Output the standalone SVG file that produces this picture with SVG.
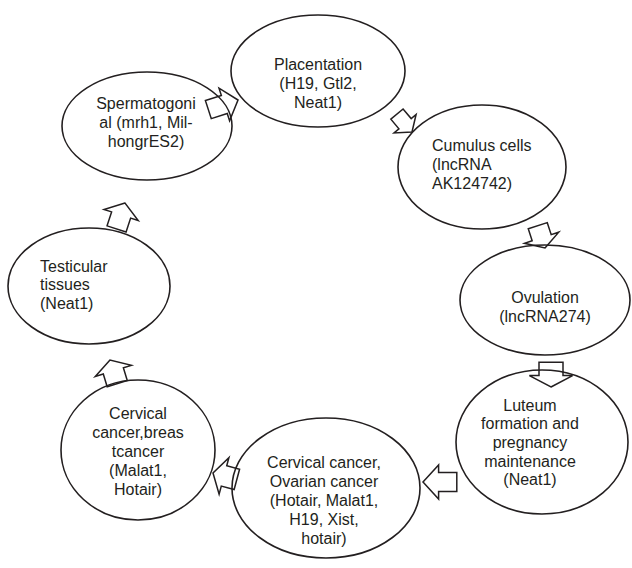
<svg xmlns="http://www.w3.org/2000/svg" width="632" height="568" viewBox="0 0 632 568">
<style>
.n{fill:none;stroke:#231f20;stroke-width:1.6}
.a{fill:#fff;stroke:#231f20;stroke-width:1.5;stroke-linejoin:miter}
text{font-family:"Liberation Sans",Arial,sans-serif;font-size:16px;fill:#231f20}
.c{text-anchor:middle}
</style>
<defs>
<path id="arr" d="M0,0 L-12,-18 L-12,-10 L-26,-10 L-26,10 L-12,10 L-12,18 Z" vector-effect="non-scaling-stroke"/>
</defs>
<rect width="632" height="568" fill="#fff"/>
<g id="connectors">
<use href="#arr" class="a" transform="translate(238,100) rotate(-18) scale(1.2,0.95)"/>
<use href="#arr" class="a" transform="translate(412,132) rotate(50) scale(0.9,0.8)"/>
<use href="#arr" class="a" transform="translate(545,248) rotate(72) scale(0.9,1)"/>
<use href="#arr" class="a" transform="translate(551,387) rotate(90) scale(0.95,1.2)"/>
<use href="#arr" class="a" transform="translate(423,482) rotate(180) scale(1.3,0.95)"/>
<use href="#arr" class="a" transform="translate(213,473) rotate(195) scale(0.95,1.05)"/>
<use href="#arr" class="a" transform="translate(110,360) rotate(-107) scale(0.95,1.05)"/>
<use href="#arr" class="a" transform="translate(125,203) rotate(-72) scale(1.05,1)"/>
</g>
<g id="placentation">
<ellipse class="n" cx="318" cy="71" rx="87" ry="56"/>
<text class="c" x="318" y="70">Placentation</text>
<text class="c" x="318" y="89">(H19, Gtl2,</text>
<text class="c" x="318" y="108">Neat1)</text>
</g>
<g id="cumulus">
<ellipse class="n" cx="482" cy="167" rx="84" ry="62"/>
<text x="432" y="151">Cumulus cells</text>
<text x="432" y="170">(lncRNA</text>
<text x="432" y="189">AK124742)</text>
</g>
<g id="ovulation">
<ellipse class="n" cx="545" cy="300" rx="85" ry="55"/>
<text class="c" x="545" y="303">Ovulation</text>
<text class="c" x="545" y="322">(lncRNA274)</text>
</g>
<g id="luteum">
<ellipse class="n" cx="542" cy="442" rx="86" ry="72"/>
<text class="c" x="530" y="411">Luteum</text>
<text class="c" x="530" y="429">formation and</text>
<text class="c" x="530" y="448">pregnancy</text>
<text class="c" x="530" y="467">maintenance</text>
<text class="c" x="530" y="485">(Neat1)</text>
</g>
<g id="cervical-ovarian">
<ellipse class="n" cx="326" cy="488" rx="94" ry="70"/>
<text class="c" x="324" y="468">Cervical cancer,</text>
<text class="c" x="324" y="487">Ovarian cancer</text>
<text class="c" x="324" y="506">(Hotair, Malat1,</text>
<text class="c" x="324" y="525">H19, Xist,</text>
<text class="c" x="324" y="544">hotair)</text>
</g>
<g id="cervical-breast">
<ellipse class="n" cx="138" cy="450" rx="77" ry="70"/>
<text class="c" x="138" y="419">Cervical</text>
<text class="c" x="138" y="438">cancer,breas</text>
<text class="c" x="138" y="457">tcancer</text>
<text class="c" x="138" y="476">(Malat1,</text>
<text class="c" x="138" y="495">Hotair)</text>
</g>
<g id="testicular">
<ellipse class="n" cx="89" cy="286" rx="81" ry="58"/>
<text x="40" y="272">Testicular</text>
<text x="40" y="290">tissues</text>
<text x="40" y="309">(Neat1)</text>
</g>
<g id="spermatogonial">
<ellipse class="n" cx="147" cy="126" rx="85" ry="54"/>
<text class="c" x="146" y="109">Spermatogoni</text>
<text class="c" x="146" y="128">al (mrh1, Mil-</text>
<text class="c" x="146" y="147">hongrES2)</text>
</g>
</svg>
